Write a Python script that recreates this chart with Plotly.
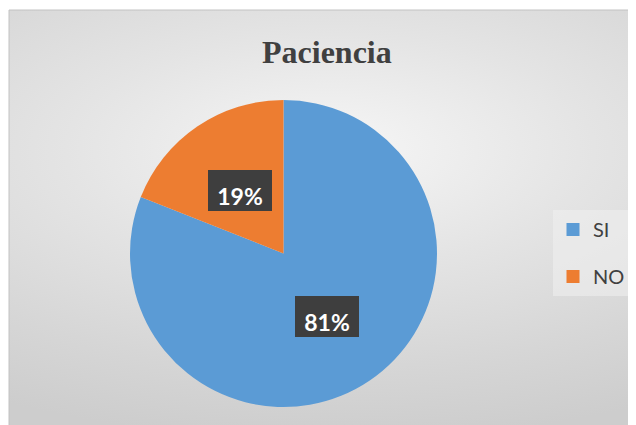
import math
import plotly.graph_objects as go

W, H = 636, 425
OFF = 8  # page body margin offset

title_text = "Paciencia"
categories = ["SI", "NO"]
values = [81, 19]
colors = ["#5B9BD5", "#ED7D31"]


def px_x(x):
    return (x - OFF) / W


def px_y(y):
    return (H - (y - OFF)) / H


def dx(x):
    return x - OFF


def dy(y):
    return H - (y - OFF)


fig = go.Figure()

# chart area background with radial gradient (bbox extended so the light centre sits high)
gx0, gx1 = dx(-330), dx(990)
gy0, gy1 = dy(440), dy(-140)
fig.add_trace(go.Scatter(
    x=[gx0, gx1, gx1, gx0, gx0], y=[gy0, gy0, gy1, gy1, gy0],
    mode="lines", fill="toself",
    line=dict(color="rgba(0,0,0,0)", width=0),
    fillgradient=dict(type="radial",
                      colorscale=[[0, "#f6f6f6"], [0.4, "#e4e4e4"], [0.75, "#d6d6d6"], [1, "#cdcdcd"]]),
    hoverinfo="skip", showlegend=False,
))
# white page outside the chart area (left / top)
fig.add_shape(type="rect", xref="x", yref="y", x0=dx(-20), x1=dx(9), y0=dy(440), y1=dy(-20),
              fillcolor="white", line=dict(width=0), layer="above")
fig.add_shape(type="rect", xref="x", yref="y", x0=dx(-20), x1=dx(660), y0=dy(10), y1=dy(-20),
              fillcolor="white", line=dict(width=0), layer="above")
# chart border
fig.add_shape(type="rect", xref="x", yref="y", x0=dx(9), x1=dx(660), y0=dy(440), y1=dy(10),
              fillcolor="rgba(0,0,0,0)", line=dict(color="#c2c2c2", width=1), layer="above")

# pie
dom_x = [px_x(130), px_x(437)]
dom_y = [px_y(407), px_y(100)]
fig.add_trace(go.Pie(
    labels=categories, values=values, sort=False, direction="clockwise",
    rotation=0, marker=dict(colors=colors, line=dict(width=0)),
    textinfo="none", showlegend=False, domain=dict(x=dom_x, y=dom_y),
    hoverinfo="label+percent",
))

# legend entries
for c, col in zip(categories, colors):
    fig.add_trace(go.Scatter(
        x=[None], y=[None], mode="markers", name=c,
        marker=dict(symbol="square", size=13, color=col),
        legendgroup=c, showlegend=True,
    ))

# data labels
cx = (dom_x[0] + dom_x[1]) / 2 * W
cy = (dom_y[0] + dom_y[1]) / 2 * H
R = (dom_x[1] - dom_x[0]) * W / 2
total = sum(values)
start = 0.0
for v in values:
    frac = v / total
    mid = (start + frac / 2) * 2 * math.pi
    start += frac
    r = 0.5 * R
    px = cx + r * math.sin(mid)
    py = cy + r * math.cos(mid)
    fig.add_annotation(
        x=px / W, y=py / H, xref="paper", yref="paper",
        xanchor="center", yanchor="middle",
        text="<b>%d%%</b>" % round(frac * 100), showarrow=False,
        font=dict(family="Lato, Open Sans, sans-serif", size=23, color="white"),
        bgcolor="#3e3e3e", bordercolor="#3e3e3e", borderwidth=1,
        width=62, height=39, borderpad=0, valign="bottom",
    )

fig.add_annotation(
    x=px_x(327), y=px_y(52), xref="paper", yref="paper",
    xanchor="center", yanchor="middle",
    text="<b>%s</b>" % title_text, showarrow=False,
    font=dict(family="Liberation Serif, Times New Roman, serif", size=32, color="#404040"),
)

fig.update_layout(
    width=W, height=H,
    margin=dict(l=0, r=0, t=0, b=0),
    paper_bgcolor="white", plot_bgcolor="rgba(0,0,0,0)",
    xaxis=dict(range=[0, W], visible=False, fixedrange=True, domain=[0, 1]),
    yaxis=dict(range=[0, H], visible=False, fixedrange=True, domain=[0, 1]),
    showlegend=True,
    legend=dict(
        x=px_x(553), y=px_y(210), xanchor="left", yanchor="top",
        bgcolor="rgba(240,240,240,0.55)", borderwidth=0,
        font=dict(family="Lato, Open Sans, sans-serif", size=20, color="#404040"),
        tracegroupgap=18, traceorder="grouped",
        itemwidth=30,
    ),
)

fig.write_html("out.html")
